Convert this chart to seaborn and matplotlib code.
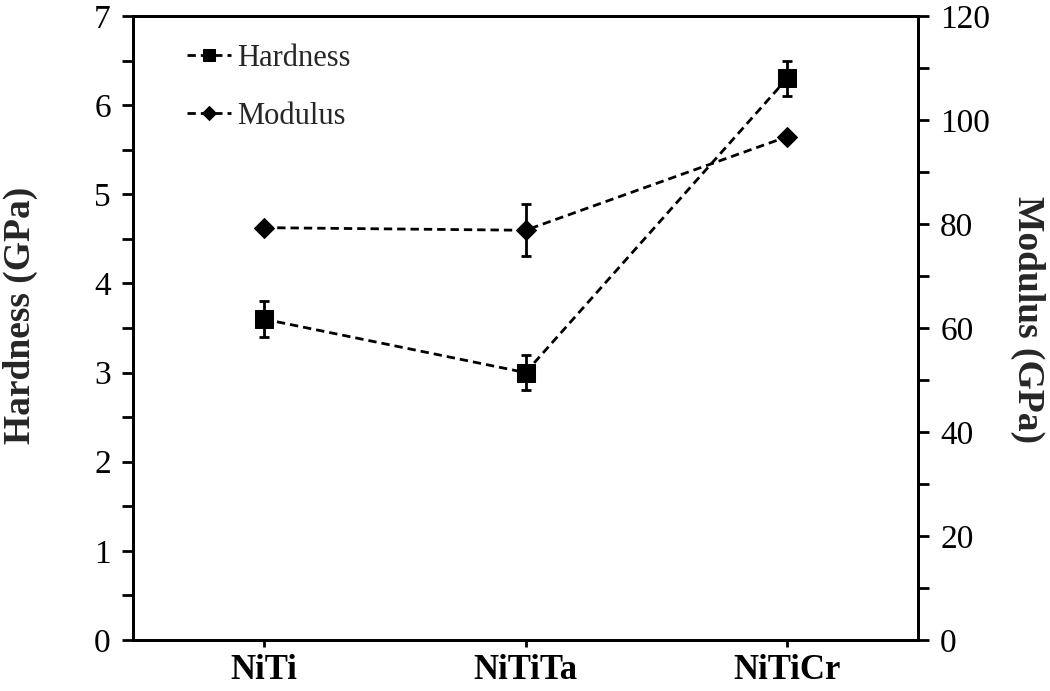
import numpy as np
import pandas as pd
import matplotlib
matplotlib.use("Agg")
import matplotlib.pyplot as plt
from matplotlib.ticker import MultipleLocator
import seaborn as sns

# data
alloys = ["NiTi", "NiTiTa", "NiTiCr"]
hardness = [3.6, 3.0, 6.3]
hardness_err = [0.2, 0.2, 0.2]
modulus = [79.3, 78.8, 96.8]
modulus_err = [0.8, 5.0, 0.8]

df = pd.DataFrame({"alloy": alloys, "hardness": hardness, "modulus": modulus})

sns.set_style("ticks")
plt.rcParams["font.family"] = ["Liberation Serif", "DejaVu Serif"]
plt.rcParams["axes.linewidth"] = 2

fig, ax = plt.subplots(figsize=(10.5, 6.91), dpi=100)
fig.subplots_adjust(left=0.1267, right=0.8743, top=0.9768, bottom=0.0738)
ax2 = ax.twinx()

dash = (0, (3.0, 1.8))

sns.lineplot(data=df, x="alloy", y="hardness", ax=ax, color="black", lw=2,
             linestyle=dash, marker="s", markersize=13, markeredgecolor="black",
             sort=False, label="Hardness", legend=False)
ax.errorbar(np.arange(len(alloys)), hardness, yerr=hardness_err, fmt="none",
            ecolor="black", elinewidth=2, capsize=3.5, capthick=2)

sns.lineplot(data=df, x="alloy", y="modulus", ax=ax2, color="black", lw=2,
             linestyle=dash, marker="D", markersize=10, markeredgecolor="black",
             sort=False, label="Modulus", legend=False)
ax2.errorbar(np.arange(len(alloys)), modulus, yerr=modulus_err, fmt="none",
             ecolor="black", elinewidth=2, capsize=3.5, capthick=2)

ax.set_xlim(-0.5, 2.5)
ax.set_ylim(0, 7)
ax2.set_ylim(0, 120)
ax.yaxis.set_major_locator(MultipleLocator(1))
ax.yaxis.set_minor_locator(MultipleLocator(0.5))
ax2.yaxis.set_major_locator(MultipleLocator(20))
ax2.yaxis.set_minor_locator(MultipleLocator(10))

for a in (ax, ax2):
    a.tick_params(axis="both", which="both", direction="out", length=8, width=2,
                  labelsize=24, colors="black", pad=8)
    for s in a.spines.values():
        s.set_linewidth(2)
        s.set_color("black")
ax.tick_params(axis="x", length=5, pad=5, labelsize=25)
for lbl in ax.get_xticklabels():
    lbl.set_fontweight("bold")

ax.set_xlabel("")
ax.set_ylabel("Hardness (GPa)", fontsize=27, fontweight="bold", va="center")
ax2.set_ylabel("Modulus (GPa)", fontsize=27, fontweight="bold", rotation=270, va="center")
ax.yaxis.set_label_coords(-0.144, 0.52)
ax2.yaxis.set_label_coords(1.14, 0.513)

h1, l1 = ax.get_legend_handles_labels()
h2, l2 = ax2.get_legend_handles_labels()
ax.legend(h1 + h2, l1 + l2, loc="upper left", frameon=False, fontsize=22,
          handlelength=1.45, handletextpad=0.2, labelspacing=0.95,
          markerscale=0.7, borderaxespad=0.2, bbox_to_anchor=(0.045, 0.985))

fig.savefig("out.png", dpi=100)
